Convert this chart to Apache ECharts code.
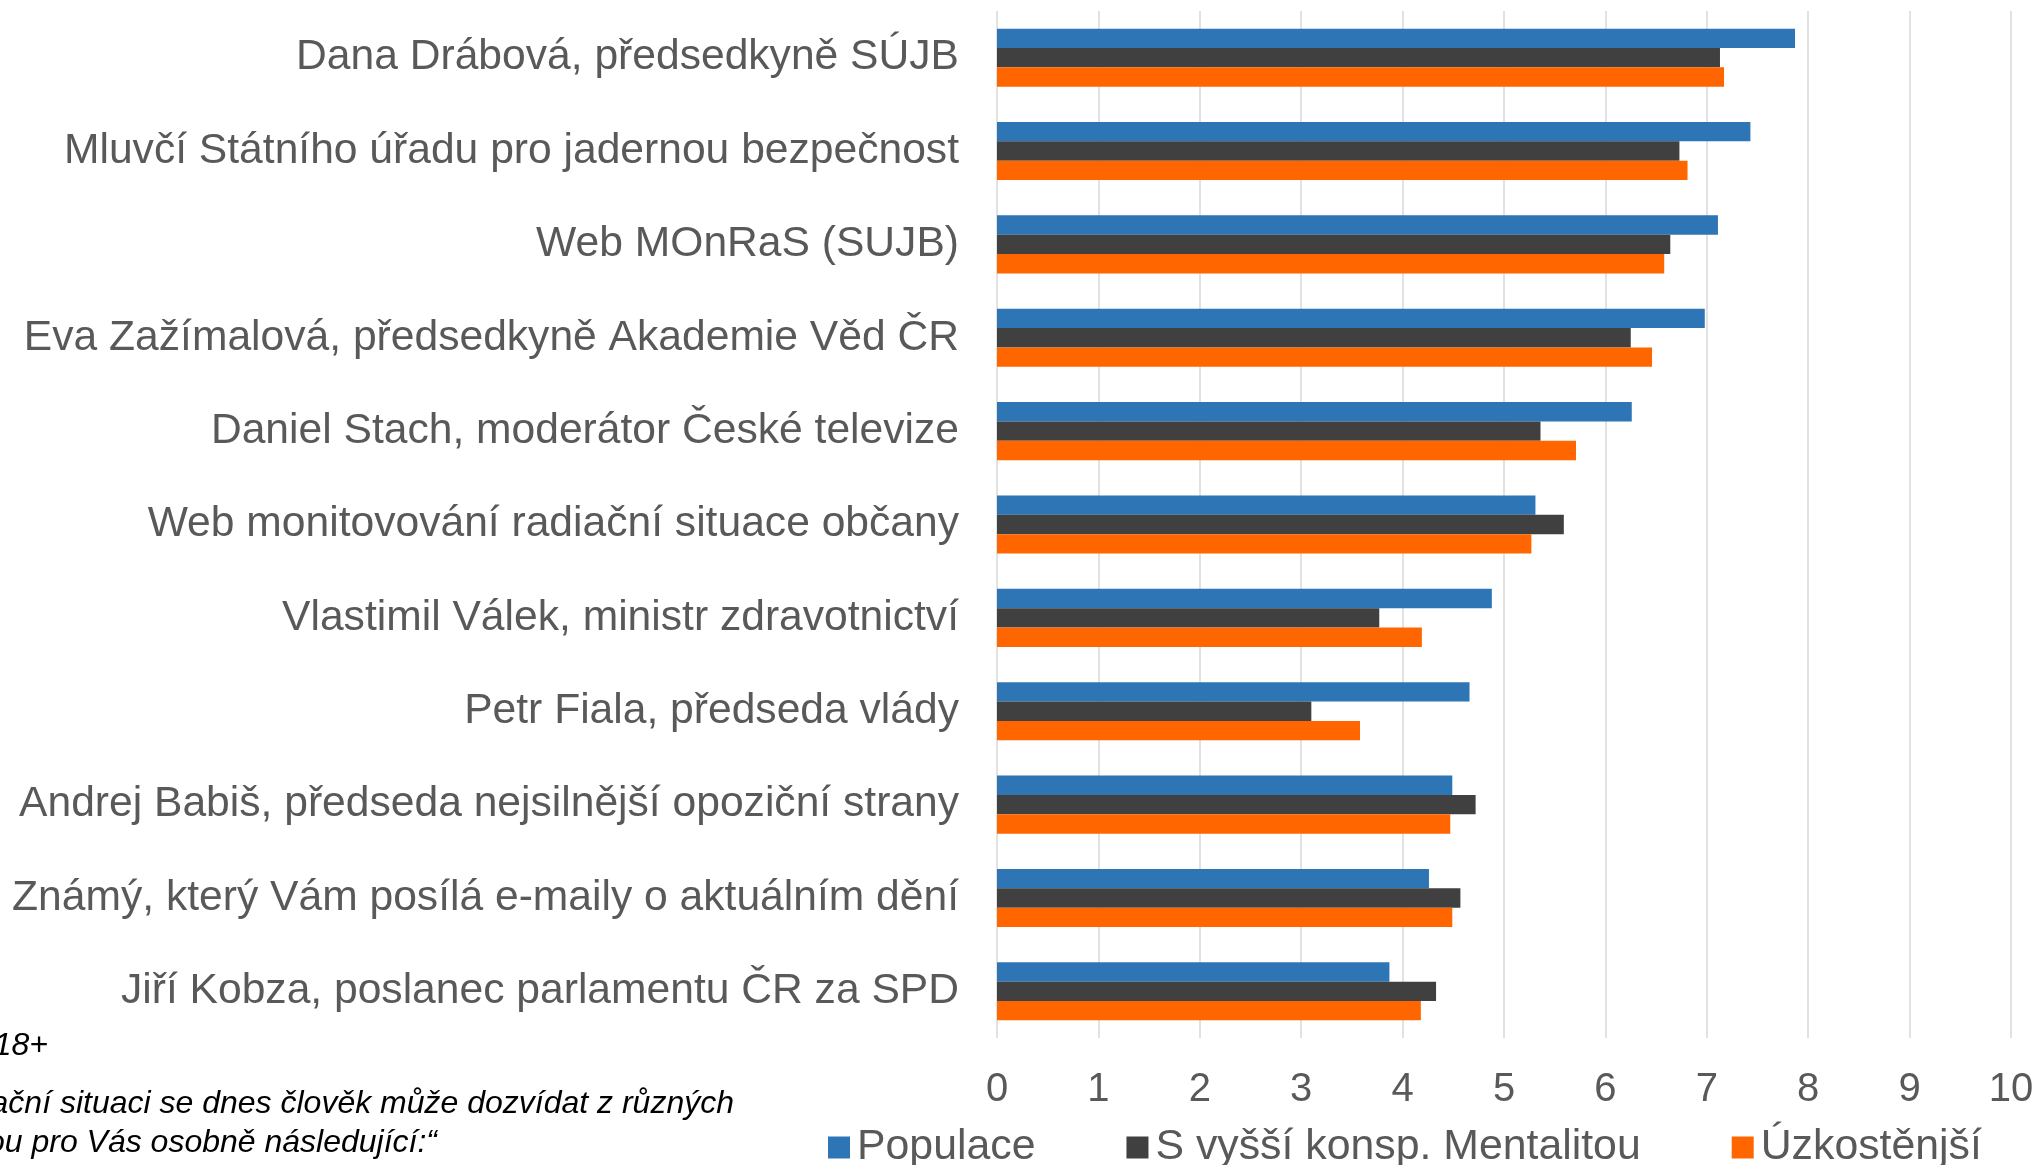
<!DOCTYPE html>
<html>
<head>
<meta charset="utf-8">
<script src="https://cdn.jsdelivr.net/npm/echarts@6/dist/echarts.min.js"></script>
<style>
  html, body { margin: 0; padding: 0; background: #fff; }
  #chart { width: 2038px; height: 1165px; }
</style>
</head>
<body>
<div id="chart"></div>
<script>
// categories, top to bottom
const categories = [
  'Dana Drábová, předsedkyně SÚJB',
  'Mluvčí Státního úřadu pro jadernou bezpečnost',
  'Web MOnRaS (SUJB)',
  'Eva Zažímalová, předsedkyně Akademie Věd ČR',
  'Daniel Stach, moderátor České televize',
  'Web monitovování radiační situace občany',
  'Vlastimil Válek, ministr zdravotnictví',
  'Petr Fiala, předseda vlády',
  'Andrej Babiš, předseda nejsilnější opoziční strany',
  'Známý, který Vám posílá e-maily o aktuálním dění',
  'Jiří Kobza, poslanec parlamentu ČR za SPD'
];
const populace   = [7.87, 7.43, 7.11, 6.98, 6.26, 5.31, 4.88, 4.66, 4.49, 4.26, 3.87];
const konspirace = [7.13, 6.73, 6.64, 6.25, 5.36, 5.59, 3.77, 3.10, 4.72, 4.57, 4.33];
const uzkostnejsi = [7.17, 6.81, 6.58, 6.46, 5.71, 5.27, 4.19, 3.58, 4.47, 4.49, 4.18];
const seriesNames = ['Populace', 'S vyšší konsp. Mentalitou', 'Úzkostěnjší'];

const font = '"Liberation Sans", Arial, sans-serif';

const chart = echarts.init(document.getElementById('chart'));
chart.setOption({
  animation: false,
  color: ['#2E75B6', '#404040', '#FF6600'],
  textStyle: { fontFamily: font },
  grid: { left: 997, right: 27, top: 11, height: 1027 },
  legend: {
    left: 823,
    top: 1121,
    itemWidth: 22,
    itemHeight: 22,
    itemGap: 91,
    icon: 'rect',
    textStyle: { fontSize: 42.8, color: '#595959', fontFamily: font, padding: [0, 0, 0, 2] },
    data: seriesNames
  },
  xAxis: {
    type: 'value',
    min: 0,
    max: 10,
    interval: 1,
    axisLine: { show: false },
    axisTick: { show: false },
    axisLabel: { fontSize: 40, color: '#595959', margin: 32, fontFamily: font },
    splitLine: { lineStyle: { color: '#d9d9d9', width: 1.5 } }
  },
  yAxis: {
    type: 'category',
    inverse: true,
    data: categories,
    axisLine: { show: false },
    axisTick: { show: false },
    axisLabel: { fontSize: 42.6, color: '#595959', margin: 38, fontFamily: font, padding: [4, 0, 0, 0] }
  },
  series: [
    { name: seriesNames[0], type: 'bar', data: populace, barGap: '0%', barCategoryGap: '37.8%' },
    { name: seriesNames[1], type: 'bar', data: konspirace, barGap: '0%', barCategoryGap: '37.8%' },
    { name: seriesNames[2], type: 'bar', data: uzkostnejsi, barGap: '0%', barCategoryGap: '37.8%' }
  ],
  graphic: [
    { type: 'text', right: 1990, top: 1030, style: { text: 'Základ: populace ČR 18+', font: 'italic 32px ' + font, fill: '#000' } },
    { type: 'text', right: 1304, top: 1088, style: { text: 'Otázka: „O radiační situaci se dnes člověk může dozvídat z různých', font: 'italic 32px ' + font, fill: '#000' } },
    { type: 'text', right: 1601, top: 1127, style: { text: 'zdrojů. Nakolik jsou pro Vás osobně následující:“', font: 'italic 32px ' + font, fill: '#000' } }
  ]
});
</script>
</body>
</html>
